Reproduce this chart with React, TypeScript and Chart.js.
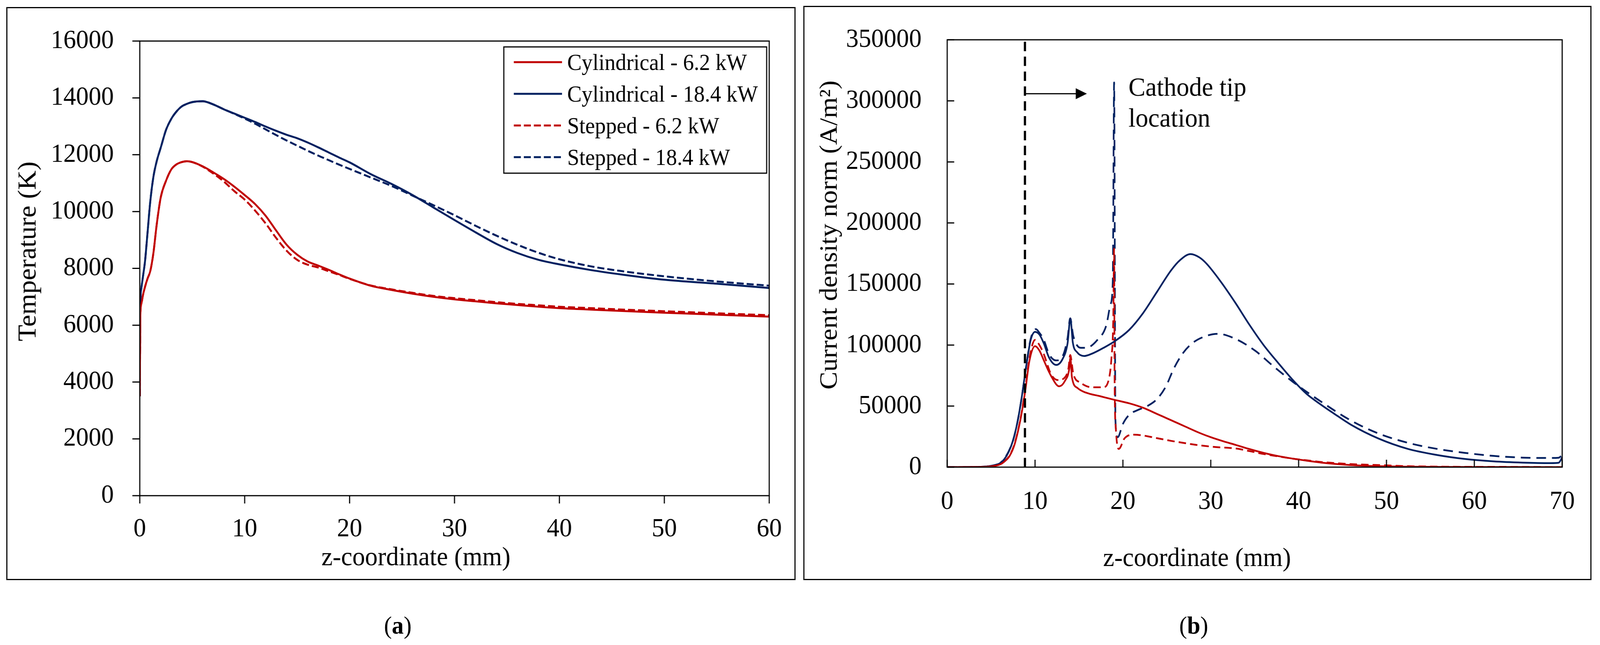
import React, { useEffect, useRef, useState } from 'react';
import { Chart, registerables } from 'chart.js';

Chart.register(...registerables);

// ---------- Panel (a): temperature ----------
const xTicksA = [0, 10, 20, 30, 40, 50, 60];
const yTicksA = [0, 2000, 4000, 6000, 8000, 10000, 12000, 14000, 16000];
const zA = [0, 0.05, 0.15, 0.3, 0.5, 0.75, 1, 1.3, 1.6, 2, 2.5, 3, 3.5, 4, 4.5, 5, 6, 7, 8, 9, 10, 11, 12, 13, 14, 15, 16, 17, 18, 19, 20, 22, 24, 26, 28, 30, 32, 34, 36, 38, 40, 43, 46, 50, 55, 60];
const tCyl62 = [3500, 6300, 6750, 7050, 7350, 7650, 7900, 8540, 9500, 10500, 11080, 11480, 11660, 11740, 11770, 11740, 11590, 11380, 11150, 10880, 10580, 10260, 9850, 9330, 8830, 8480, 8240, 8100, 7950, 7790, 7640, 7390, 7240, 7110, 7000, 6910, 6840, 6770, 6710, 6650, 6600, 6550, 6500, 6440, 6370, 6300];
const tCyl184 = [3500, 6600, 7300, 7700, 8250, 9300, 10350, 11220, 11750, 12250, 12870, 13260, 13520, 13700, 13790, 13850, 13880, 13770, 13600, 13450, 13300, 13150, 12990, 12840, 12700, 12580, 12430, 12260, 12080, 11900, 11730, 11320, 10970, 10580, 10140, 9700, 9270, 8860, 8540, 8300, 8140, 7940, 7780, 7600, 7460, 7310];
const tStep62 = [3500, 6300, 6750, 7050, 7350, 7650, 7900, 8540, 9500, 10500, 11080, 11480, 11660, 11740, 11770, 11740, 11580, 11340, 11060, 10720, 10420, 10030, 9580, 9070, 8620, 8300, 8130, 8030, 7900, 7770, 7630, 7400, 7260, 7140, 7030, 6950, 6880, 6810, 6750, 6700, 6650, 6600, 6550, 6490, 6420, 6350];
const tStep184 = [3500, 6600, 7300, 7700, 8250, 9300, 10350, 11220, 11750, 12250, 12870, 13260, 13520, 13700, 13790, 13850, 13880, 13770, 13600, 13440, 13270, 13090, 12890, 12690, 12500, 12320, 12140, 11970, 11810, 11650, 11500, 11200, 10900, 10560, 10220, 9870, 9500, 9150, 8830, 8550, 8320, 8070, 7900, 7720, 7540, 7390];
const labelsA = ['Cylindrical - 6.2 kW', 'Cylindrical - 18.4 kW', 'Stepped - 6.2 kW', 'Stepped - 18.4 kW'];

// ---------- Panel (b): current density ----------
const xTicksB = [0, 10, 20, 30, 40, 50, 60, 70];
const yTicksB = [0, 50000, 100000, 150000, 200000, 250000, 300000, 350000];
const zBCyl62 = [0, 3, 4.5, 5.5, 6.1, 6.5, 7.1, 7.7, 8.4, 8.9, 9.35, 10, 10.5, 11, 11.8, 12.75, 13.4, 13.9, 14.02, 14.2, 14.85, 15.8, 17.4, 19, 20.7, 22.3, 23.9, 25.5, 27.1, 28.7, 30, 31.5, 32.8, 34.4, 36, 37.7, 39.3, 41, 42.6, 44, 45.9, 49.1, 52, 56, 60, 65, 70];
const jCyl62 = [0, 50, 300, 1200, 2500, 4500, 9100, 19300, 41300, 63200, 86700, 99100, 95500, 87400, 75000, 66200, 70600, 80800, 89600, 73500, 64700, 61000, 58100, 55200, 52300, 48600, 43500, 38400, 33200, 28100, 24500, 21000, 18300, 14800, 11700, 9000, 7000, 5200, 3700, 2700, 1700, 800, 400, 200, 100, 50, 0];
const zBCyl184 = [0, 3, 4.5, 5.5, 6, 6.5, 7, 7.5, 8, 8.5, 9, 9.5, 10, 10.5, 11, 11.6, 12.4, 13.1, 13.7, 14.02, 14.3, 14.8, 15.6, 16.6, 17.8, 19, 20.7, 22.3, 23.9, 25.5, 26.5, 27.7, 28.7, 29.5, 31.1, 32.8, 34.4, 36, 37.7, 39.3, 40.9, 42.6, 44, 45.9, 49.1, 52.4, 55.7, 58.9, 62.2, 65.5, 68.7, 69.6, 70];
const jCyl184 = [0, 100, 600, 1800, 3000, 6500, 12500, 22000, 37000, 58000, 83000, 104000, 110800, 108600, 101300, 89600, 83700, 88100, 101300, 121800, 102000, 94000, 91000, 93300, 97700, 102800, 112300, 126200, 143800, 161300, 169500, 174500, 171800, 166800, 152300, 134600, 116600, 100100, 85100, 71700, 60000, 50900, 44000, 35000, 23400, 15000, 10000, 6700, 4700, 3700, 3300, 3600, 8000];
const zBStep62 = [0, 3, 4.5, 5.5, 6.1, 6.5, 7.1, 7.7, 8.4, 8.9, 9.35, 10, 10.5, 11, 11.8, 12.6, 13.4, 13.8, 14.0, 14.36, 15.2, 16.5, 17.75, 18.4, 18.7, 18.9, 19.0, 19.05, 19.2, 19.53, 20.2, 21.3, 22.3, 23.9, 25.5, 27.1, 28.7, 30.5, 32.8, 34.5, 36, 37.7, 39.3, 41, 42.6, 45.9, 49.1, 52.4, 56, 60, 65, 70];
const jStep62 = [0, 50, 300, 1200, 2600, 4800, 9500, 20000, 42000, 65000, 89000, 104200, 100000, 92500, 76400, 71300, 73500, 80800, 91800, 76400, 69100, 65400, 65400, 72000, 89600, 120000, 178900, 75000, 31000, 14900, 23700, 26600, 25900, 23700, 21500, 19600, 17900, 16500, 15300, 13000, 10800, 8800, 7000, 5500, 4200, 2500, 1700, 800, 400, 200, 100, 0];
const zBStep184 = [0, 3, 4.5, 5.5, 6, 6.5, 7, 7.5, 8, 8.5, 9, 9.5, 10.1, 10.5, 11, 11.6, 12.4, 13.1, 13.7, 14.0, 14.36, 15.2, 15.8, 17.1, 18.1, 18.6, 18.85, 19.0, 19.15, 19.4, 20.0, 20.7, 21.8, 22.8, 23.9, 24.9, 25.8, 26.8, 27.9, 29.3, 30.8, 32.8, 35.1, 37, 39.3, 42.6, 45.9, 49.1, 52.4, 55.7, 58.9, 62.2, 65.5, 68.7, 69.6, 70];
const jStep184 = [0, 100, 600, 1800, 3200, 7000, 13000, 22000, 37000, 58000, 83000, 105000, 113000, 110000, 104200, 92500, 87400, 90300, 105700, 121800, 107200, 97700, 97700, 104200, 115900, 133500, 152500, 315000, 38400, 24500, 35400, 42700, 47100, 50100, 55900, 66200, 80800, 93000, 101500, 107000, 109200, 105100, 95100, 83400, 70100, 53400, 38400, 27500, 20000, 15000, 11700, 9200, 7800, 7500, 7700, 10000];
const cathodeTipZ = [8.85, 8.85];
const cathodeTipJ = [0, 350000];
const arrowZ = [8.85, 15.9];
const arrowJ = [305800, 305800];
const annotationLines = ['Cathode tip', 'location'];

const RED = '#C00000';
const BLUE = '#002060';
const FONT = '"Liberation Serif", "Times New Roman", serif';
const W = 4316;
const H = 1650;

const pts = (xs: number[], ys: number[]) => xs.map((x, i) => ({ x, y: ys[i] }));

// font size such that `text` is `target` px wide (measured once at 100px)
function fitSize(ctx: CanvasRenderingContext2D, text: string, target: number) {
  ctx.font = `100px ${FONT}`;
  const w = ctx.measureText(text).width || 1;
  return Math.max(50, Math.min(80, (100 * target) / w));
}

function framePlugin(inward: boolean, len: number) {
  return {
    id: 'frameTicks',
    afterDatasetsDraw(chart: any) {
      const { ctx, chartArea: a, scales } = chart;
      ctx.save();
      ctx.strokeStyle = '#000';
      ctx.lineWidth = 3;
      ctx.lineCap = 'butt';
      ctx.setLineDash([]);
      ctx.strokeRect(a.left, a.top, a.right - a.left, a.bottom - a.top);
      const d = inward ? -1 : 1;
      ctx.beginPath();
      for (const t of scales.x.ticks) {
        const px = scales.x.getPixelForValue(t.value);
        ctx.moveTo(px, a.bottom);
        ctx.lineTo(px, a.bottom + d * len);
      }
      for (const t of scales.y.ticks) {
        const py = scales.y.getPixelForValue(t.value);
        ctx.moveTo(a.left, py);
        ctx.lineTo(a.left - d * len, py);
      }
      ctx.stroke();
      ctx.restore();
    },
  };
}

function titlesPlugin(
  xTitle: string, xCx: number, xBase: number, xLen: number,
  yTitle: string, yBase: number, yCy: number, yLen: number,
) {
  return {
    id: 'axisTitles',
    afterDraw(chart: any) {
      const { ctx } = chart;
      ctx.save();
      const xs = fitSize(ctx, xTitle, xLen);
      const ys = fitSize(ctx, yTitle, yLen);
      ctx.fillStyle = '#000';
      ctx.textAlign = 'center';
      ctx.textBaseline = 'alphabetic';
      ctx.font = `${xs}px ${FONT}`;
      ctx.fillText(xTitle, xCx, xBase);
      ctx.font = `${ys}px ${FONT}`;
      ctx.translate(yBase, yCy);
      ctx.rotate(-Math.PI / 2);
      ctx.fillText(yTitle, 0, 0);
      ctx.restore();
    },
  };
}

const legendPlugin = {
  id: 'boxLegend',
  afterDraw(chart: any) {
    const { ctx } = chart;
    const ds = chart.data.datasets;
    ctx.save();
    const fs = fitSize(ctx, ds[0].label, 485);
    ctx.fillStyle = '#fff';
    ctx.fillRect(1359, 120, 709, 323);
    ctx.strokeStyle = '#000';
    ctx.lineWidth = 3;
    ctx.strokeRect(1359, 120, 709, 323);
    ctx.font = `${fs}px ${FONT}`;
    ctx.textAlign = 'left';
    ctx.textBaseline = 'alphabetic';
    for (let i = 0; i < 4; i++) {
      const base = 179 + i * 81;
      const ly = base - 20;
      ctx.beginPath();
      ctx.strokeStyle = ds[i].borderColor;
      ctx.lineWidth = 5;
      ctx.setLineDash(ds[i].borderDash || []);
      ctx.moveTo(1386, ly);
      ctx.lineTo(1516, ly);
      ctx.stroke();
      ctx.setLineDash([]);
      ctx.fillStyle = '#000';
      ctx.fillText(ds[i].label, 1530, base);
    }
    ctx.restore();
  },
};

const annotationPlugin = {
  id: 'cathodeAnnot',
  afterDatasetsDraw(chart: any) {
    const { ctx, scales } = chart;
    const x1 = scales.x.getPixelForValue(arrowZ[0]);
    const x2 = scales.x.getPixelForValue(arrowZ[1]);
    const y = scales.y.getPixelForValue(arrowJ[0]);
    ctx.save();
    const fs = fitSize(ctx, annotationLines[0], 318);
    ctx.strokeStyle = '#000';
    ctx.fillStyle = '#000';
    ctx.lineWidth = 3;
    ctx.setLineDash([]);
    ctx.beginPath();
    ctx.moveTo(x1, y);
    ctx.lineTo(x2 - 26, y);
    ctx.stroke();
    ctx.beginPath();
    ctx.moveTo(x2, y);
    ctx.lineTo(x2 - 30, y - 14);
    ctx.lineTo(x2 - 30, y + 14);
    ctx.closePath();
    ctx.fill();
    ctx.font = `${fs}px ${FONT}`;
    ctx.textAlign = 'left';
    ctx.textBaseline = 'alphabetic';
    ctx.fillText(annotationLines[0], 884, 245);
    ctx.fillText(annotationLines[1], 884, 324);
    ctx.restore();
  },
};

const tickFont = { family: FONT, size: 68, lineHeight: 1.2 };
const plainTick = (v: any) => String(v);

function ChartA() {
  const ref = useRef<HTMLCanvasElement>(null);
  useEffect(() => {
    const mk = (label: string, ys: number[], color: string, dash: number[]) => ({
      label,
      data: pts(zA, ys),
      borderColor: color,
      backgroundColor: color,
      borderWidth: 5,
      borderDash: dash,
      pointRadius: 0,
      tension: 0.4,
      cubicInterpolationMode: 'monotone' as const,
      fill: false,
    });
    const chart = new Chart(ref.current as HTMLCanvasElement, {
      type: 'line',
      data: {
        datasets: [
          mk(labelsA[0], tCyl62, RED, []),
          mk(labelsA[1], tCyl184, BLUE, []),
          mk(labelsA[2], tStep62, RED, [19, 8]),
          mk(labelsA[3], tStep184, BLUE, [19, 8]),
        ],
      },
      options: {
        responsive: false,
        devicePixelRatio: 1,
        animation: false,
        layout: { padding: { top: 105, left: 0, right: 85, bottom: 0 } },
        plugins: { legend: { display: false }, tooltip: { enabled: false } },
        scales: {
          x: {
            type: 'linear', min: 0, max: 60,
            grid: { display: false }, border: { display: false },
            ticks: { font: tickFont, color: '#000', padding: 37, maxRotation: 0, callback: plainTick },
            afterBuildTicks: (s: any) => { s.ticks = xTicksA.map((v) => ({ value: v })); },
            afterFit: (s: any) => { s.height = 292; },
          },
          y: {
            type: 'linear', min: 0, max: 16000,
            grid: { display: false }, border: { display: false },
            ticks: { font: tickFont, color: '#000', padding: 62, callback: plainTick },
            afterBuildTicks: (s: any) => { s.ticks = yTicksA.map((v) => ({ value: v })); },
            afterFit: (s: any) => { s.width = 377; },
          },
        },
      } as any,
      plugins: [
        framePlugin(false, 20),
        titlesPlugin('z-coordinate (mm)', 1122, 1446, 510, 'Temperature (K)', 96, 643, 460),
        legendPlugin,
      ],
    });
    return () => chart.destroy();
  }, []);
  return <canvas ref={ref} width={2160} height={1560} style={{ position: 'absolute', left: 0, top: 0, width: 2160, height: 1560 }} />;
}

function ChartB() {
  const ref = useRef<HTMLCanvasElement>(null);
  useEffect(() => {
    const mk = (label: string, xs: number[], ys: number[], color: string, dash: number[], w = 4.5) => ({
      label,
      data: pts(xs, ys),
      borderColor: color,
      backgroundColor: color,
      borderWidth: w,
      borderDash: dash,
      pointRadius: 0,
      tension: 0.4,
      cubicInterpolationMode: 'monotone' as const,
      fill: false,
    });
    const chart = new Chart(ref.current as HTMLCanvasElement, {
      type: 'line',
      data: {
        datasets: [
          mk('Cathode tip location', cathodeTipZ, cathodeTipJ, '#000', [24, 14], 6),
          mk('Cylindrical - 6.2 kW', zBCyl62, jCyl62, RED, []),
          mk('Cylindrical - 18.4 kW', zBCyl184, jCyl184, BLUE, []),
          mk('Stepped - 6.2 kW', zBStep62, jStep62, RED, [20, 11]),
          mk('Stepped - 18.4 kW', zBStep184, jStep184, BLUE, [26, 16]),
        ],
      },
      options: {
        responsive: false,
        devicePixelRatio: 1,
        animation: false,
        layout: { padding: { top: 97, left: 0, right: 102, bottom: 0 } },
        plugins: { legend: { display: false }, tooltip: { enabled: false } },
        scales: {
          x: {
            type: 'linear', min: 0, max: 70,
            grid: { display: false }, border: { display: false },
            ticks: { font: tickFont, color: '#000', padding: 40, maxRotation: 0, callback: plainTick },
            afterBuildTicks: (s: any) => { s.ticks = xTicksB.map((v) => ({ value: v })); },
            afterFit: (s: any) => { s.height = 365; },
          },
          y: {
            type: 'linear', min: 0, max: 350000,
            grid: { display: false }, border: { display: false },
            ticks: { font: tickFont, color: '#000', padding: 61, callback: plainTick },
            afterBuildTicks: (s: any) => { s.ticks = yTicksB.map((v) => ({ value: v })); },
            afterFit: (s: any) => { s.width = 395; },
          },
        },
      } as any,
      plugins: [
        framePlugin(true, 19),
        titlesPlugin('z-coordinate (mm)', 1069, 1448, 507, 'Current density norm (A/m²)', 97, 601, 791),
        annotationPlugin,
      ],
    });
    return () => chart.destroy();
  }, []);
  return <canvas ref={ref} width={2156} height={1560} style={{ position: 'absolute', left: 2160, top: 0, width: 2156, height: 1560 }} />;
}

const captionStyle = (cx: number): React.CSSProperties => ({
  position: 'absolute', left: cx - 200, top: 1560, width: 400, height: 80, lineHeight: '80px',
  textAlign: 'center', fontFamily: FONT, fontSize: 64, color: '#000',
});

function useViewportScale() {
  const get = () => ({
    sx: (document.documentElement.clientWidth || window.innerWidth) / W,
    sy: (document.documentElement.clientHeight || window.innerHeight) / H,
  });
  const [s, setS] = useState(get);
  useEffect(() => {
    const on = () => setS(get());
    window.addEventListener('resize', on);
    return () => window.removeEventListener('resize', on);
  }, []);
  return s;
}

export default function App() {
  const { sx, sy } = useViewportScale();
  return (
    <>
      <style>{'html,body{margin:0;padding:0;overflow:hidden;background:#fff}'}</style>
      <div
        style={{
          position: 'absolute', left: 0, top: 0, width: W, height: H, background: '#fff', overflow: 'hidden',
          transform: `scale(${sx}, ${sy})`, transformOrigin: '0 0',
        }}
      >
        <div style={{ position: 'absolute', left: 17, top: 18, width: 2129, height: 1466, border: '3px solid #000', boxSizing: 'border-box' }} />
        <div style={{ position: 'absolute', left: 2167, top: 15, width: 2126, height: 1469, border: '3px solid #000', boxSizing: 'border-box' }} />
        <ChartA />
        <ChartB />
        <div style={captionStyle(1073)}>(<b>a</b>)</div>
        <div style={captionStyle(3220)}>(<b>b</b>)</div>
      </div>
    </>
  );
}
